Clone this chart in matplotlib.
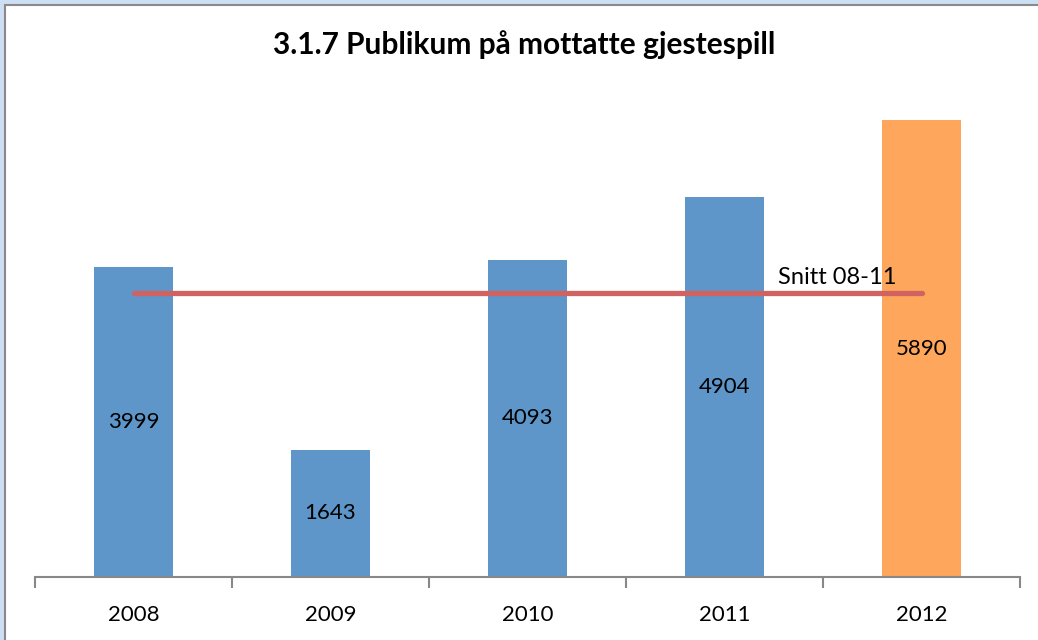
import matplotlib.pyplot as plt
from matplotlib.patches import Rectangle

years = ['2008', '2009', '2010', '2011', '2012']
values = [3999, 1643, 4093, 4904, 5890]
avg_years = 4  # snitt over 08-11
snitt = sum(values[:avg_years]) / avg_years

plt.rcParams['font.family'] = ['Lato', 'DejaVu Sans']

W, H = 1038, 640
fig = plt.figure(figsize=(W / 100, H / 100), dpi=100)
fig.patch.set_facecolor('#cddff2')

# white chart area with grey border (top/left visible)
fig.patches.append(Rectangle((5 / W, -0.05), 1.1, (H - 5) / H + 0.05,
                             transform=fig.transFigure, facecolor='white',
                             edgecolor='#8a8a8a', lw=1.5, zorder=-10))

ax = fig.add_axes([35 / W, 63 / H, 985 / W, 543 / H])
ax.set_facecolor('none')

x = list(range(len(years)))
colors = ['#5e96c9'] * 4 + ['#fea65c']
ax.bar(x, values, width=0.4, color=colors, zorder=2)

for xi, v in zip(x, values):
    ax.text(xi, v / 2, str(v), ha='center', va='center', fontsize=16, zorder=4)

ax.plot([0, len(years) - 1], [snitt, snitt], color='#d06262', lw=3.8,
        solid_capstyle='round', zorder=3)
ax.text(3.27, snitt + 60, 'Snitt 08-11', ha='left', va='bottom',
        fontsize=17, zorder=4)

ax.set_xlim(-0.5, len(years) - 0.5)
ax.set_ylim(0, 7000)
ax.set_xticks(x)
ax.set_xticklabels(years, fontsize=16)
ax.set_xticks([i - 0.5 for i in range(len(years) + 1)], minor=True)
ax.tick_params(axis='x', which='major', length=0, pad=20)
ax.tick_params(axis='x', which='minor', length=8, color='#888888', width=1.5,
               direction='out')
ax.set_yticks([])
for s in ['top', 'right', 'left']:
    ax.spines[s].set_visible(False)
ax.spines['bottom'].set_color('#888888')
ax.spines['bottom'].set_linewidth(1.5)

fig.text(524 / W, 1 - 45 / H, '3.1.7 Publikum på mottatte gjestespill',
         ha='center', va='center', fontsize=21.5, fontweight='bold')

fig.savefig('out.png', dpi=100, facecolor=fig.get_facecolor())
